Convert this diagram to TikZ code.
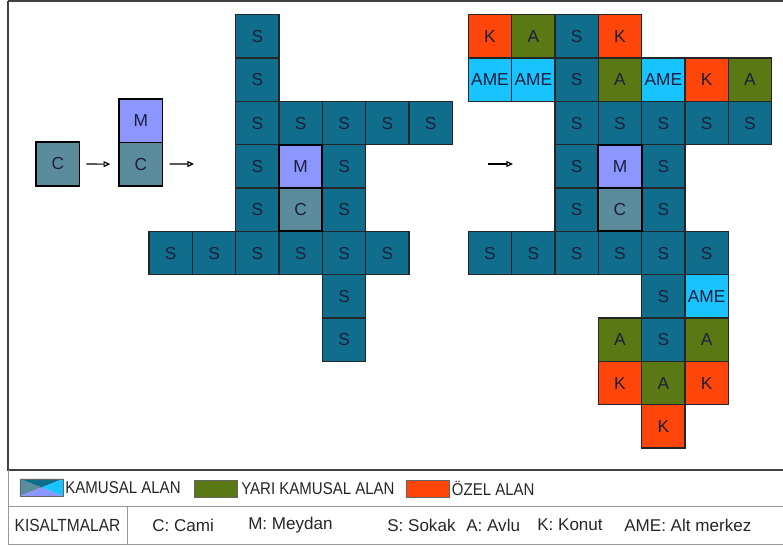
\documentclass[tikz,border=0pt]{standalone}
\usepackage{fontspec}
\setmainfont{Liberation Sans}
\newfontfamily\narrowfont[FakeStretch=0.88]{Liberation Sans}
\usepackage{tikz}
\usetikzlibrary{arrows.meta, positioning}
\definecolor{colSokak}{HTML}{106E8C}
\definecolor{colMeydan}{HTML}{8C96FF}
\definecolor{colCami}{HTML}{5A8C9B}
\definecolor{colKonut}{HTML}{FF460A}
\definecolor{colAvlu}{HTML}{5A7814}
\definecolor{colAme}{HTML}{19C3FF}
\definecolor{ink}{HTML}{1B1F3B}

\begin{document}
\begin{tikzpicture}[
  x=0.75pt, y=-0.75pt,
  every node/.style={font=\fontsize{13}{15}\selectfont, text=ink},
  cell/.style={rectangle, draw=black!85, line width=0.9pt,
               minimum size=32.5pt, inner sep=0pt},
  sokak/.style={cell, fill=colSokak},
  meydan/.style={cell, fill=colMeydan, draw=black, line width=1.4pt},
  cami/.style={cell, fill=colCami, draw=black, line width=1.4pt},
  konut/.style={cell, fill=colKonut},
  avlu/.style={cell, fill=colAvlu},
  ame/.style={cell, fill=colAme},
  swatch/.style={rectangle, draw=black!60, line width=0.5pt,
                 minimum width=32pt, minimum height=12.5pt, inner sep=0pt},
  legtext/.style={font=\narrowfont\fontsize{12.8}{15}\selectfont, text=black!85, inner sep=1pt},
  abbr/.style={font=\fontsize{12.8}{15}\selectfont, text=black!85, anchor=west, inner sep=0pt},
  arrow/.style={-{Triangle[open, length=5pt, width=4.5pt]}, line width=0.9pt}
]
  \useasboundingbox (0,0) rectangle (783,547);

  \draw[black!75, line width=1pt] (795,1) -- (8,1);
  \draw[black!75, line width=2pt] (8,1) -- (8,470) -- (795,470);
  \draw[black!40, line width=0.7pt] (8,470) -- (8,544) -- (795,544);
  \draw[black!40, line width=0.7pt] (8,506.7) -- (795,506.7);
  \draw[black!40, line width=0.7pt] (127.7,506.7) -- (127.7,544);

  \node[cami]   (c0) at (57.8,164)  {C};
  \node[meydan] (sm) at (140.8,120.8) {M};
  \node[cami]   (sc) at (140.8,164.2) {C};

  \begin{scope}[shift={(170.7,36.4)}, x=32.5pt, y=-32.5pt]
    \foreach \c/\r in {2/0, 2/1, 2/2, 3/2, 4/2, 5/2, 6/2, 2/3, 4/3, 2/4, 4/4,
                       0/5, 1/5, 2/5, 3/5, 4/5, 5/5, 4/6, 4/7}{
      \node[sokak] (m-\c-\r) at (\c,\r) {S};
    }
    \node[meydan] (m-3-3) at (3,3) {M};
    \node[cami]   (m-3-4) at (3,4) {C};
  \end{scope}

  \begin{scope}[shift={(490,36.4)}, x=32.5pt, y=-32.5pt]
    \foreach \c/\r/\s/\t in {0/0/konut/K, 1/0/avlu/A, 2/0/sokak/S, 3/0/konut/K,
                             0/1/ame/AME, 1/1/ame/AME, 2/1/sokak/S, 3/1/avlu/A,
                             4/1/ame/AME, 5/1/konut/K, 6/1/avlu/A,
                             2/2/sokak/S, 3/2/sokak/S, 4/2/sokak/S, 5/2/sokak/S, 6/2/sokak/S,
                             2/3/sokak/S, 4/3/sokak/S, 2/4/sokak/S, 4/4/sokak/S,
                             0/5/sokak/S, 1/5/sokak/S, 2/5/sokak/S, 3/5/sokak/S,
                             4/5/sokak/S, 5/5/sokak/S,
                             4/6/sokak/S, 5/6/ame/AME,
                             3/7/avlu/A, 4/7/sokak/S, 5/7/avlu/A,
                             3/8/konut/K, 4/8/avlu/A, 5/8/konut/K,
                             4/9/konut/K}{
      \node[\s] (r-\c-\r) at (\c,\r) {\t};
    }
    \node[meydan] (r-3-3) at (3,3) {M};
    \node[cami]   (r-3-4) at (3,4) {C};
  \end{scope}

  \coordinate (a2) at (194,164);
  \coordinate (a3s) at (488,164);
  \coordinate (a3e) at (513,164);
  \draw[arrow, shorten <=4.5pt, shorten >=6pt] (c0) -- (sc);
  \draw[arrow, shorten <=4.7pt] (sc) -- (a2);
  \draw[arrow] (a3s) -- (a3e);

  \node[swatch] (kamusal) at (41.5,487.5) {};
  \fill[colCami]   (kamusal.north west) -- (kamusal.center) -- (kamusal.south west) -- cycle;
  \fill[colSokak]  (kamusal.north west) -- (kamusal.center) -- (kamusal.north east) -- cycle;
  \fill[colAme]    (kamusal.north east) -- (kamusal.center) -- (kamusal.south east) -- cycle;
  \fill[colMeydan] (kamusal.south west) -- (kamusal.center) -- (kamusal.south east) -- cycle;
  \draw[black!60, line width=0.5pt] (kamusal.north west) rectangle (kamusal.south east);
  \node[legtext, right=0.5pt of kamusal] (tKamusal) {KAMUSAL ALAN};
  \node[swatch, fill=colAvlu] (yari) at (216,488.5) {};
  \node[legtext, right=1.5pt of yari] (tYari) {YARI KAMUSAL ALAN};
  \node[swatch, fill=colKonut] (ozel) at (428,488.5) {};
  \node[legtext, right=0.5pt of ozel] (tOzel) {ÖZEL ALAN};

  \node[legtext, font=\narrowfont\fontsize{13.2}{15}\selectfont] (kisa) at (67.5,525) {KISALTMALAR};
  \node[abbr] (kC)   at (152,525) {C: Cami};
  \node[abbr] (kM)   at (248,525) {M: Meydan};
  \node[abbr] (kS)   at (387,525) {S: Sokak};
  \node[abbr] (kA)   at (466,525) {A: Avlu};
  \node[abbr] (kK)   at (537,525) {K: Konut};
  \node[abbr] (kAme) at (624,525) {AME: Alt merkez};
\end{tikzpicture}
\end{document}
